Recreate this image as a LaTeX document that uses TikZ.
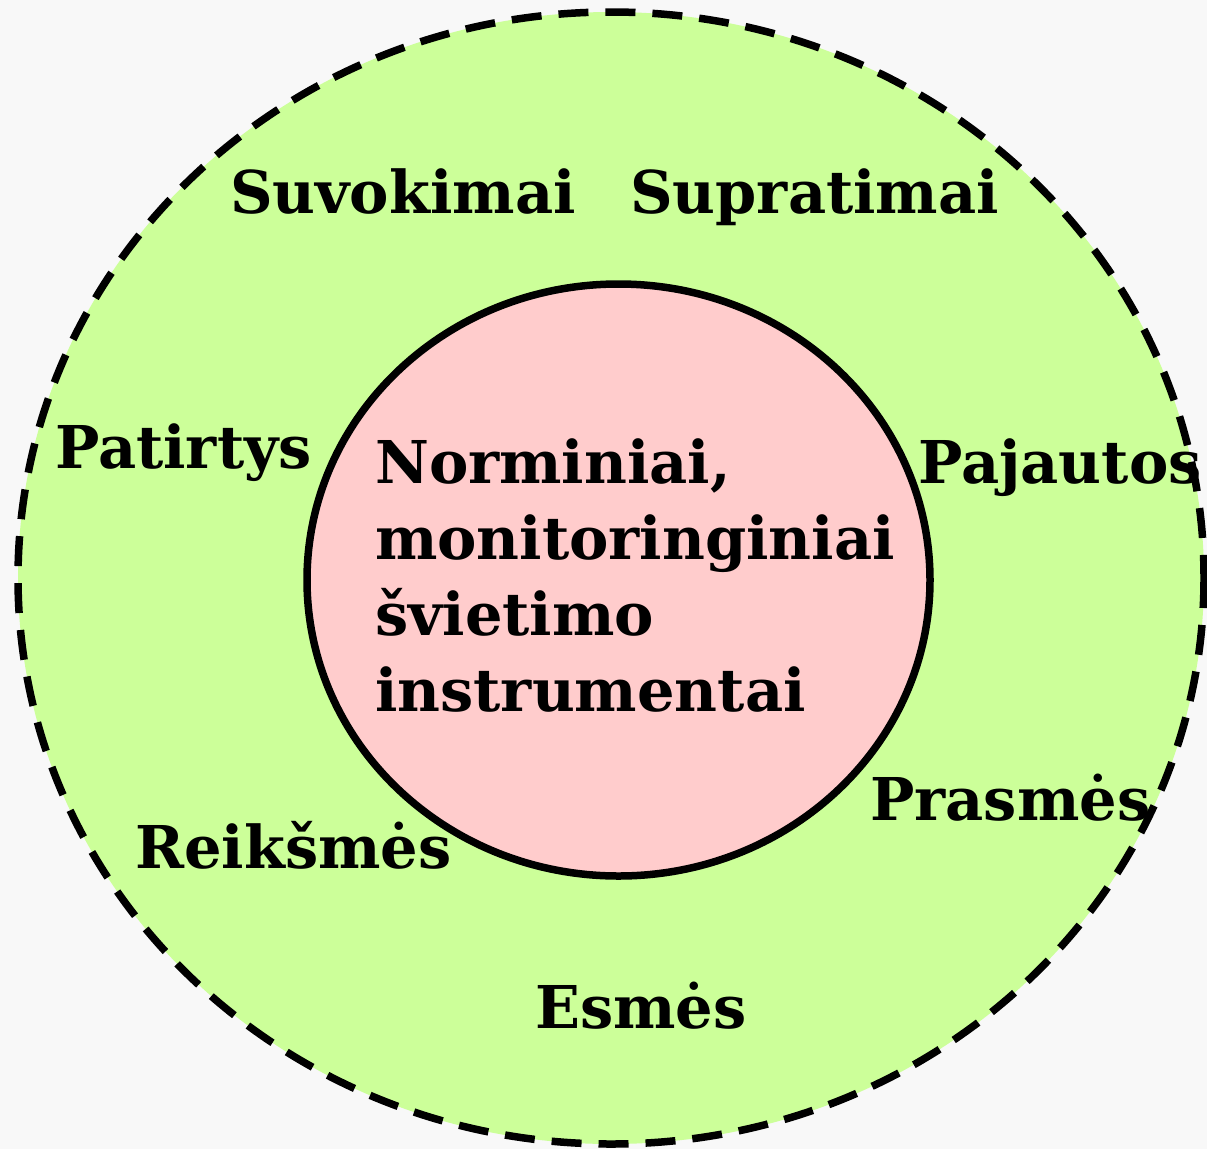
\documentclass[tikz,border=0pt]{standalone}
\usepackage{fontspec}
\setmainfont{DejaVu Serif}
\begin{document}
\begin{tikzpicture}[x=1pt,y=-1pt,
  lbl/.style={anchor=base west,inner sep=0pt,font=\fontsize{59}{76}\selectfont\bfseries},
  outer/.style={draw=black,line width=7.5pt,fill=outergreen,dash pattern=on 30pt off 17pt},
  inner/.style={draw=black,line width=7.5pt,fill=innerpink}]
\definecolor{outergreen}{HTML}{CCFF99}
\definecolor{innerpink}{HTML}{FFCCCC}
\definecolor{bggray}{HTML}{F8F8F8}
\fill[bggray] (0,0) rectangle (1207,1149);
\useasboundingbox (0,0) rectangle (1207,1149);
\draw[outer] (611,578) ellipse [x radius=593, y radius=566];
\draw[inner] (618.5,580) ellipse [x radius=311.5, y radius=296];
\node[lbl] (suv) at (230,213) {Suvokimai};
\node[lbl] (sup) at (630,213) {Supratimai};
\node[lbl] (pat) at (55,468) {Patirtys};
\node[lbl] (paj) at (918,483) {Pajautos};
\node[lbl] (pra) at (870,820) {Prasmės};
\node[lbl] (rei) at (135,868) {Reikšmės};
\node[lbl] (esm) at (535,1028) {Esmės};
\node[lbl,align=left,anchor=north west] (ctr) at (375,438) {Norminiai,\\monitoringiniai\\švietimo\\instrumentai};
\end{tikzpicture}
\end{document}
